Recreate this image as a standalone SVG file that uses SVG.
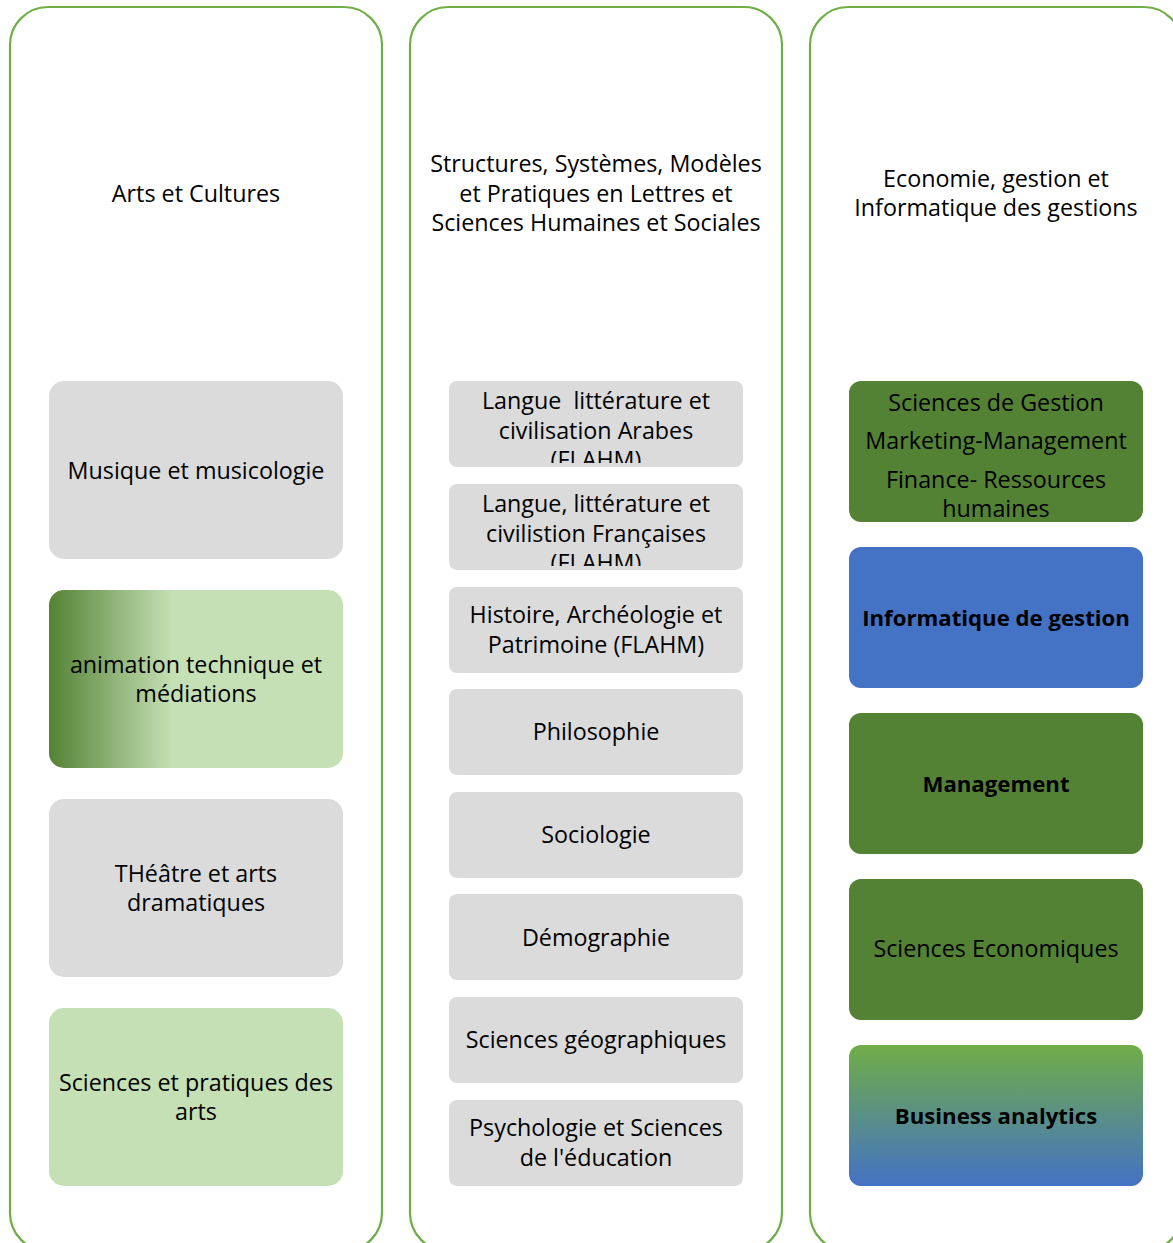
<svg xmlns="http://www.w3.org/2000/svg" width="1173" height="1243" viewBox="0 0 1173 1243">
<style>
.col{fill:#fff;stroke:#70AD47;stroke-width:2.2}
.t{font-family:"Open Sans","Liberation Sans",sans-serif;font-size:23.3px;fill:#000;text-anchor:middle;white-space:pre}
.b{font-weight:bold;font-size:22.2px}
.grey{fill:#DBDBDB}
.lg{fill:#C5E0B4}
.dg{fill:#548235}
.blue{fill:#4472C4}
</style>
<defs>
<linearGradient id="gAnim" x1="0" y1="0" x2="1" y2="0">
<stop offset="0" stop-color="#548235"/>
<stop offset="0.42" stop-color="#C5E0B4"/>
<stop offset="1" stop-color="#C5E0B4"/>
</linearGradient>
<linearGradient id="gBA" x1="0" y1="0" x2="0" y2="1">
<stop offset="0" stop-color="#70AD47"/>
<stop offset="1" stop-color="#4472C4"/>
</linearGradient>
<clipPath id="c1"><rect x="449" y="381" width="294" height="82"/></clipPath>
<clipPath id="c2"><rect x="449" y="484" width="294" height="82"/></clipPath>
<clipPath id="c3"><rect x="849" y="381" width="294" height="137"/></clipPath>
</defs>

<g id="col-arts">
<rect class="col" x="10" y="7" width="372" height="1244" rx="38"/>
<text class="t" x="196" y="202">Arts et Cultures</text>
</g>
<g id="col-structures">
<rect class="col" x="410" y="7" width="372" height="1244" rx="38"/>
<text class="t" x="596" y="172">Structures, Systèmes, Modèles</text>
<text class="t" x="596" y="202">et Pratiques en Lettres et</text>
<text class="t" x="596" y="231">Sciences Humaines et Sociales</text>
</g>
<g id="col-economie">
<rect class="col" x="810" y="7" width="372" height="1244" rx="38"/>
<text class="t" x="996" y="187">Economie, gestion et</text>
<text class="t" x="996" y="216">Informatique des gestions</text>
</g>

<g id="n-musique">
<rect class="grey" x="49" y="381" width="294" height="178" rx="15"/>
<text class="t" x="196" y="479">Musique et musicologie</text>
</g>
<g id="n-animation">
<rect fill="url(#gAnim)" x="49" y="590" width="294" height="178" rx="15"/>
<text class="t" x="196" y="673">animation technique et</text>
<text class="t" x="196" y="702">médiations</text>
</g>
<g id="n-theatre">
<rect class="grey" x="49" y="799" width="294" height="178" rx="15"/>
<text class="t" x="196" y="882">THéâtre et arts</text>
<text class="t" x="196" y="911">dramatiques</text>
</g>
<g id="n-sciences-arts">
<rect class="lg" x="49" y="1008" width="294" height="178" rx="15"/>
<text class="t" x="196" y="1091">Sciences et pratiques des</text>
<text class="t" x="196" y="1120">arts</text>
</g>

<g id="n-arabe">
<rect class="grey" x="449" y="381" width="294" height="86" rx="8"/>
<g clip-path="url(#c1)">
<text class="t" x="596" y="409">Langue  littérature et</text>
<text class="t" x="596" y="439">civilisation Arabes</text>
<text class="t" x="596" y="468">(FLAHM)</text>
</g>
</g>
<g id="n-francaise">
<rect class="grey" x="449" y="484" width="294" height="86" rx="8"/>
<g clip-path="url(#c2)">
<text class="t" x="596" y="512">Langue, littérature et</text>
<text class="t" x="596" y="542">civilistion Françaises</text>
<text class="t" x="596" y="571">(FLAHM)</text>
</g>
</g>
<g id="n-histoire">
<rect class="grey" x="449" y="587" width="294" height="86" rx="8"/>
<text class="t" x="596" y="623">Histoire, Archéologie et</text>
<text class="t" x="596" y="653">Patrimoine (FLAHM)</text>
</g>
<g id="n-philo">
<rect class="grey" x="449" y="689" width="294" height="86" rx="8"/>
<text class="t" x="596" y="740">Philosophie</text>
</g>
<g id="n-socio">
<rect class="grey" x="449" y="792" width="294" height="86" rx="8"/>
<text class="t" x="596" y="843">Sociologie</text>
</g>
<g id="n-demo">
<rect class="grey" x="449" y="894" width="294" height="86" rx="8"/>
<text class="t" x="596" y="946">Démographie</text>
</g>
<g id="n-geo">
<rect class="grey" x="449" y="997" width="294" height="86" rx="8"/>
<text class="t" x="596" y="1048">Sciences géographiques</text>
</g>
<g id="n-psycho">
<rect class="grey" x="449" y="1100" width="294" height="86" rx="8"/>
<text class="t" x="596" y="1136">Psychologie et Sciences</text>
<text class="t" x="596" y="1166">de l'éducation</text>
</g>

<g id="n-gestion">
<rect class="dg" x="849" y="381" width="294" height="141" rx="12"/>
<g clip-path="url(#c3)">
<text class="t" x="996" y="411">Sciences de Gestion</text>
<text class="t" x="996" y="449">Marketing-Management</text>
<text class="t" x="996" y="488">Finance- Ressources</text>
<text class="t" x="996" y="517">humaines</text>
</g>
</g>
<g id="n-info">
<rect class="blue" x="849" y="547" width="294" height="141" rx="12"/>
<text class="t b" x="996" y="626">Informatique de gestion</text>
</g>
<g id="n-management">
<rect class="dg" x="849" y="713" width="294" height="141" rx="12"/>
<text class="t b" x="996" y="792">Management</text>
</g>
<g id="n-eco">
<rect class="dg" x="849" y="879" width="294" height="141" rx="12"/>
<text class="t" x="996" y="957">Sciences Economiques</text>
</g>
<g id="n-ba">
<rect fill="url(#gBA)" x="849" y="1045" width="294" height="141" rx="12"/>
<text class="t b" x="996" y="1124">Business analytics</text>
</g>
<g id="connectors"></g>
</svg>
